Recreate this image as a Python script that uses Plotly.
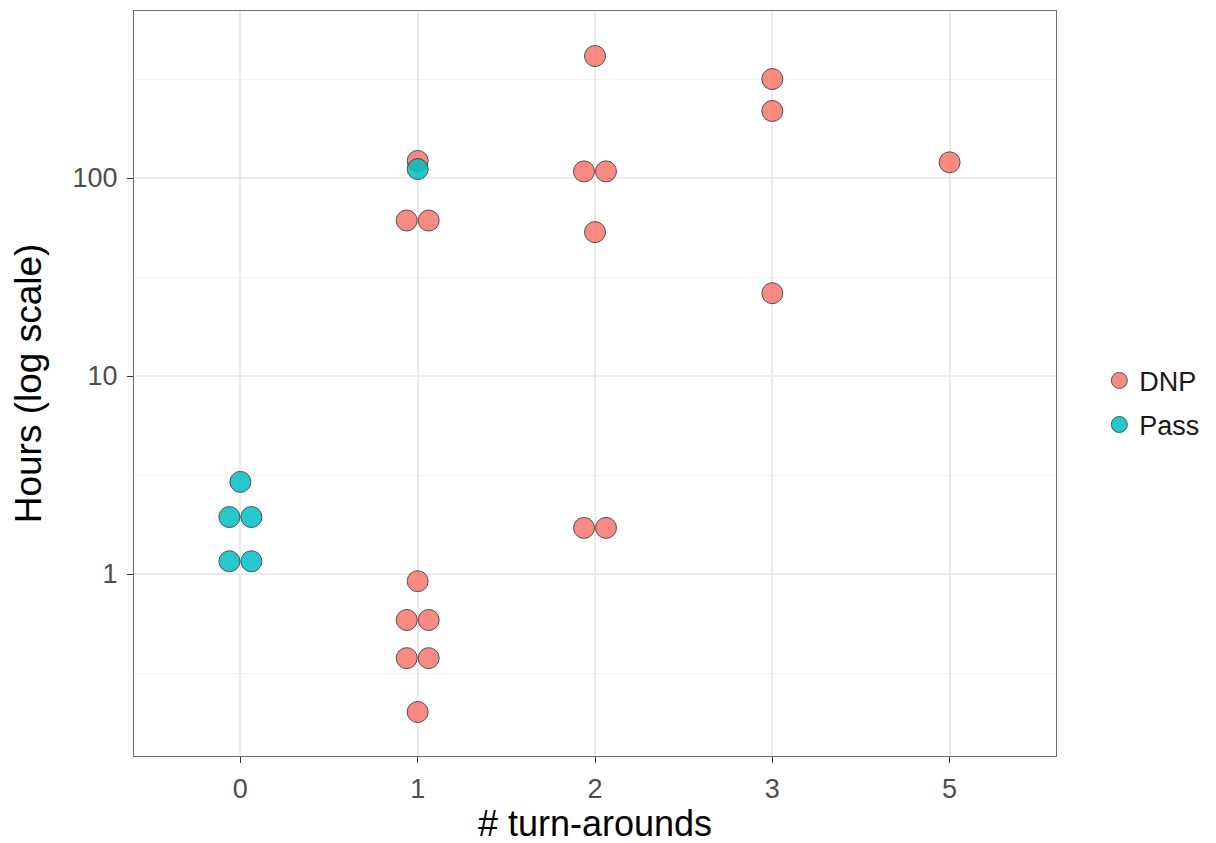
import plotly.graph_objects as go
from collections import Counter, defaultdict

categories = ["0", "1", "2", "3", "5"]

dnp_turns = ["1"] * 9 + ["2"] * 6 + ["3"] * 3 + ["5"]
dnp_hours = [122, 61, 61, 0.92, 0.586, 0.586, 0.376, 0.376, 0.201,
             413, 108, 108, 53.3, 1.71, 1.71,
             316, 218, 26.2,
             120]

pass_turns = ["0", "0", "0", "0", "0", "1"]
pass_hours = [2.92, 1.94, 1.94, 1.16, 1.16, 111]

colors = {"DNP": "#F8766D", "Pass": "#00BFC4"}
DODGE = 0.062


def positions(turns, hours):
    counts = Counter(zip(turns, hours))
    seen = defaultdict(int)
    xs = []
    for t, h in zip(turns, hours):
        n = counts[(t, h)]
        k = seen[(t, h)]
        seen[(t, h)] += 1
        off = (k - (n - 1) / 2) * 2 * DODGE
        xs.append(categories.index(t) + off)
    return xs


fig = go.Figure()
for name, turns, hours in [("DNP", dnp_turns, dnp_hours),
                           ("Pass", pass_turns, pass_hours)]:
    fig.add_trace(go.Scatter(
        x=positions(turns, hours), y=hours, mode="markers", name=name,
        legendgroup=name,
        marker=dict(size=21, color=colors[name], opacity=0.85,
                    line=dict(color="#333333", width=1)),
    ))

fig.update_layout(
    width=1216, height=843,
    margin=dict(l=126, r=168, t=3, b=95),
    paper_bgcolor="white", plot_bgcolor="white",
    font=dict(family="Liberation Sans, Arial, sans-serif", color="#000000"),
    showlegend=True,
    legend=dict(x=1.047, xanchor="left", y=0.474, yanchor="middle",
                font=dict(size=27, color="#1a1a1a"),
                tracegroupgap=6, itemsizing="trace",
                bgcolor="rgba(0,0,0,0)"),
)

fig.update_xaxes(
    range=[-0.6, 4.6], tickvals=list(range(len(categories))), ticktext=categories,
    showgrid=True, gridcolor="#EBEBEB", gridwidth=1.5, zeroline=False,
    ticks="outside", ticklen=6, tickcolor="#333333", tickwidth=1.2,
    tickfont=dict(size=27, color="#4D4D4D"), ticklabelstandoff=2,
    showline=True, linecolor="#6e6e6e", linewidth=1.2, mirror=True,
    title=dict(text="# turn-arounds", font=dict(size=36, color="#000000"), standoff=5),
)

fig.update_yaxes(
    type="log", range=[-0.919, 2.8434],
    tickvals=[1, 10, 100], ticktext=["1", "10", "100"],
    showgrid=True, gridcolor="#EBEBEB", gridwidth=1.5, zeroline=False,
    ticks="outside", ticklen=6, tickcolor="#333333", tickwidth=1.2,
    tickfont=dict(size=27, color="#4D4D4D"), ticklabelstandoff=4,
    showline=True, linecolor="#6e6e6e", linewidth=1.2, mirror=True,
    minor=dict(tickvals=[10 ** -0.5, 10 ** 0.5, 10 ** 1.5, 10 ** 2.5],
               showgrid=True, gridcolor="#F3F3F3", gridwidth=1, ticklen=0),
    title=dict(text="Hours (log scale)", font=dict(size=37, color="#000000"), standoff=20),
)

fig.write_html("out.html")
